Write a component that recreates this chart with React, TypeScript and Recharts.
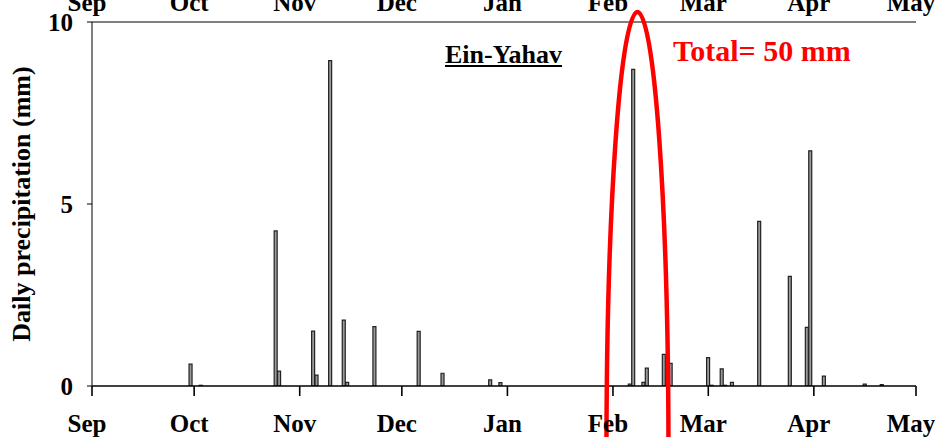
import React from "react";
import {
  Bar,
  BarChart,
  ReferenceDot,
  XAxis,
  YAxis,
} from "recharts";

// days counted from 1 Sep; values in mm
const rainDays = [
  29, 32, 54, 55, 65, 66, 70, 74, 75, 83, 96, 103, 117, 120, 158, 159,
  162, 163, 168, 170, 181, 182, 185, 186, 188, 196, 205, 210, 211, 215,
  227, 232,
];
const rainMm = [
  0.6, 0.02, 4.26, 0.41, 1.51, 0.3, 8.94, 1.81, 0.1, 1.63, 1.5, 0.35,
  0.17, 0.09, 0.05, 8.7, 0.1, 0.49, 0.87, 0.62, 0.78, 0.02, 0.47, 0.02,
  0.1, 4.52, 3.01, 1.61, 6.46, 0.27, 0.05, 0.04,
];

const monthTicks = [0, 30, 61, 91, 122, 153, 181, 212, 242];
const monthLabels = ["Sep", "Oct", "Nov", "Dec", "Jan", "Feb", "Mar", "Apr", "May"];
const yTicks = [0, 5, 10];

// red ellipse marking the Feb event (center in data units)
const highlightDay = 160.2;
const highlightMm = -1.84;

const data = rainDays.map((day, i) => ({ day, mm: rainMm[i] }));

const FONT = "'Liberation Serif', 'Times New Roman', serif";

const monthName = (v: number) => monthLabels[monthTicks.indexOf(v)] ?? "";

const tickStyle = {
  fill: "#000",
  fontSize: 25,
  fontWeight: "bold",
  fontFamily: FONT,
};

export default function App() {
  return (
    <div
      style={{
        position: "absolute",
        left: 0,
        top: 0,
        width: 935,
        height: 437,
        background: "#fff",
        fontFamily: FONT,
        overflow: "hidden",
      }}
    >
      <BarChart
        width={935}
        height={437}
        data={data}
        margin={{ top: 0, right: 19, bottom: 0, left: 0 }}
        barCategoryGap={0}
      >
        <XAxis
          xAxisId="bottom"
          dataKey="day"
          type="number"
          domain={[0, 242]}
          ticks={monthTicks}
          tickFormatter={monthName}
          height={51}
          tickSize={10}
          tickMargin={18}
          tick={{ ...tickStyle, dx: -5 }}
          stroke="#000"
          axisLine={{ stroke: "#000", strokeWidth: 1.4 }}
          tickLine={{ stroke: "#000", strokeWidth: 1.6 }}
          interval={0}
          allowDataOverflow
        />
        <XAxis
          xAxisId="top"
          orientation="top"
          dataKey="day"
          type="number"
          domain={[0, 242]}
          ticks={monthTicks}
          tickFormatter={monthName}
          height={22}
          tickSize={0}
          tickMargin={11}
          tickLine={false}
          tick={{ ...tickStyle, dx: -5 }}
          axisLine={{ stroke: "#000", strokeWidth: 1 }}
          interval={0}
        />
        <YAxis
          yAxisId="left"
          domain={[0, 10]}
          ticks={yTicks}
          width={92}
          tickSize={5}
          tickMargin={14}
          tick={tickStyle}
          axisLine={{ stroke: "#000", strokeWidth: 1 }}
          tickLine={{ stroke: "#000", strokeWidth: 1 }}
          interval={0}
          allowDataOverflow
          label={{
            value: "Daily precipitation (mm)",
            angle: -90,
            position: "insideLeft",
            offset: 21,
            style: {
              textAnchor: "middle",
              fill: "#000",
              fontSize: 26,
              fontWeight: "bold",
              fontFamily: FONT,
            },
          }}
        />
        <YAxis
          yAxisId="right"
          orientation="right"
          domain={[0, 10]}
          width={0}
          tick={false}
          tickLine={false}
          axisLine={{ stroke: "#000", strokeWidth: 1 }}
        />
        <Bar
          xAxisId="bottom"
          yAxisId="left"
          dataKey="mm"
          barSize={3}
          fill="#9a9a9a"
          stroke="#222"
          strokeWidth={1.2}
          isAnimationActive={false}
        />
        <ReferenceDot
          xAxisId="bottom"
          yAxisId="left"
          x={highlightDay}
          y={highlightMm}
          ifOverflow="visible"
          shape={(p: any) => (
            <ellipse
              cx={p.cx}
              cy={p.cy}
              rx={31}
              ry={441}
              fill="none"
              stroke="#ff0000"
              strokeWidth={4.5}
            />
          )}
        />
      </BarChart>
      <div
        style={{
          position: "absolute",
          left: 445,
          top: 42,
          fontSize: 26,
          lineHeight: 1,
          fontWeight: "bold",
          textDecoration: "underline",
          color: "#000",
          whiteSpace: "nowrap",
        }}
      >
        Ein-Yahav
      </div>
      <div
        style={{
          position: "absolute",
          left: 673,
          top: 36,
          fontSize: 30,
          lineHeight: 1,
          fontWeight: "bold",
          color: "#ff0000",
          whiteSpace: "nowrap",
        }}
      >
        Total= 50 mm
      </div>
    </div>
  );
}
